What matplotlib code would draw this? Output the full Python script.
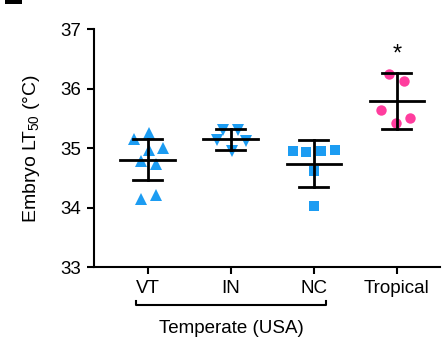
import matplotlib
matplotlib.use("Agg")
import matplotlib.pyplot as plt
from matplotlib.patches import Rectangle
import numpy as np

plt.rcParams['font.family'] = ['Liberation Sans', 'DejaVu Sans']
plt.rcParams['mathtext.fontset'] = 'custom'
plt.rcParams['mathtext.rm'] = 'Liberation Sans'

# Data
groups = ['VT', 'IN', 'NC', 'Tropical']
vt = [35.16, 35.26, 34.97, 35.01, 34.79, 34.73, 34.15, 34.21]
vt_dx = [-0.17, 0.01, 0.01, 0.18, -0.08, 0.10, -0.08, 0.10]
in_ = [35.31, 35.31, 35.13, 35.12, 34.95]
in_dx = [-0.09, 0.09, -0.17, 0.18, 0.01]
nc = [34.955, 34.94, 34.955, 34.97, 34.62, 34.03]
nc_dx = [-0.25, -0.09, 0.08, 0.25, 0.0, 0.0]
trop = [36.24, 36.13, 35.64, 35.43, 35.50]
trop_dx = [-0.10, 0.08, -0.19, -0.01, 0.16]

means = [34.80, 35.15, 34.74, 35.79]
upper = [35.15, 35.33, 35.13, 36.26]
lower = [34.46, 34.97, 34.35, 35.33]

blue = '#1c9cf2'
pink = '#ff3d9e'

fig = plt.figure(figsize=(4.45, 3.39), dpi=100)
ax = fig.add_axes([0.211, 0.212, 0.778, 0.702])

series = [(vt, vt_dx, '^', blue, 9), (in_, in_dx, 'v', blue, 9),
          (nc, nc_dx, 's', blue, 7.5), (trop, trop_dx, 'o', pink, 7.5)]
for i, (vals, dx, m, c, ms) in enumerate(series):
    ax.plot(i + np.array(dx), vals, linestyle='none', marker=m, color=c,
            markersize=ms, markeredgewidth=0, zorder=2)

# mean and error bars
for i in range(len(groups)):
    ax.plot([i - 0.33, i + 0.33], [means[i], means[i]], color='black', lw=2, zorder=3)
    ax.plot([i, i], [lower[i], upper[i]], color='black', lw=2, zorder=3)
    for y in (lower[i], upper[i]):
        ax.plot([i - 0.175, i + 0.175], [y, y], color='black', lw=2, zorder=3)

ax.text(3, 36.57, '*', ha='center', va='center', fontsize=17)

ax.set_xlim(-0.65, 3.52)
ax.set_ylim(33, 37)
ax.set_yticks([33, 34, 35, 36, 37])
ax.set_xticks(range(len(groups)))
ax.set_xticklabels(groups)
ax.tick_params(labelsize=13.5, width=1.5, length=5, direction='out', pad=4)
ax.tick_params(axis='x', pad=4.5)
for s in ['top', 'right']:
    ax.spines[s].set_visible(False)
for s in ['left', 'bottom']:
    ax.spines[s].set_linewidth(1.5)
ax.set_ylabel('Embryo $\\mathregular{L\\!T_{50}}$ (°C)', fontsize=14, labelpad=13)

# temperate bracket
ax.plot([-0.14, -0.14, 2.14, 2.14], [32.43, 32.36, 32.36, 32.43], color='black',
        lw=1.5, clip_on=False)
ax.text(1, 31.97, 'Temperate (USA)', ha='center', va='center', fontsize=13.5)

# panel label remnant at top left
fig.add_artist(Rectangle((5 / 445, 1 - 4 / 339), 17 / 445, 4 / 339,
                         transform=fig.transFigure, color='black', lw=0))

fig.savefig('out.png', dpi=100)
